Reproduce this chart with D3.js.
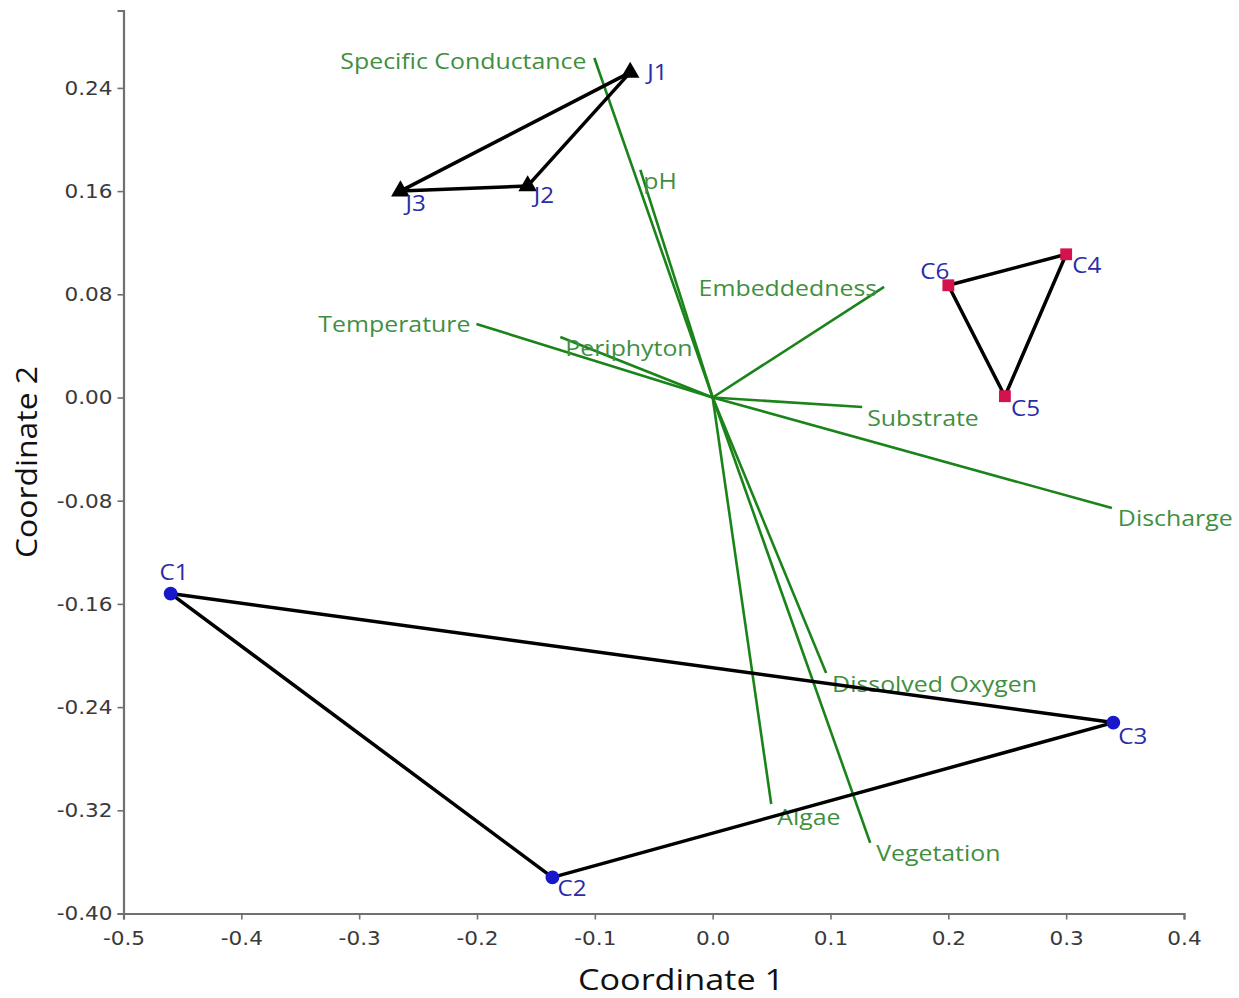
<!DOCTYPE html>
<html>
<head>
<meta charset="utf-8">
<script src="https://cdn.jsdelivr.net/npm/d3@7"></script>
<style>
  body { margin: 0; background: #fff; }
  svg { display: block; }
</style>
</head>
<body>
<script>
// Sites (scores on coordinates 1 and 2)
var siteNames = ["J1", "J2", "J3", "C4", "C5", "C6", "C1", "C2", "C3"];
var siteX = [-0.070, -0.157, -0.265, 0.300, 0.248, 0.200, -0.460, -0.136, 0.340];
var siteY = [0.252, 0.164, 0.160, 0.111, 0.001, 0.087, -0.152, -0.372, -0.252];
var siteGroup = ["J", "J", "J", "C4", "C4", "C4", "C1", "C1", "C1"];

// Environmental vectors (end points)
var varNames = ["Specific Conductance", "pH", "Embeddedness", "Temperature", "Periphyton",
                "Substrate", "Discharge", "Dissolved Oxygen", "Algae", "Vegetation"];
var varX = [-0.1004, -0.0614, 0.1455, -0.2005, -0.1293, 0.1269, 0.3388, 0.0963, 0.0497, 0.1337];
var varY = [0.2632, 0.1764, 0.0857, 0.0570, 0.0469, -0.0074, -0.0857, -0.2136, -0.3151, -0.3453];

var xTicks = [-0.5, -0.4, -0.3, -0.2, -0.1, 0.0, 0.1, 0.2, 0.3, 0.4];
var yTicks = [-0.40, -0.32, -0.24, -0.16, -0.08, 0.00, 0.08, 0.16, 0.24];

var W = 1239, H = 998;
var margin = { top: 10.5, right: 55, bottom: 84.5, left: 123.5 };

var x = d3.scaleLinear().domain([-0.5, 0.4]).range([margin.left, W - margin.right]);
var y = d3.scaleLinear().domain([-0.40, 0.30]).range([H - margin.bottom, margin.top]);

var svg = d3.select("body").append("svg")
    .attr("width", W)
    .attr("height", H);

// the source picture is a bit wider than tall, so text gets stretched sideways
function stretch(sel, k) {
  sel.each(function () {
    var len = this.getComputedTextLength();
    d3.select(this).attr("textLength", len * k).attr("lengthAdjust", "spacingAndGlyphs");
  });
}

// label placement (offsets from the line end / marker)
var varLabel = {
  "Specific Conductance": { dx: -8, dy: 11, anchor: "end" },
  "pH": { dx: 3, dy: 19, anchor: "start" },
  "Embeddedness": { dx: -7, dy: 9, anchor: "end" },
  "Temperature": { dx: -6, dy: 8, anchor: "end" },
  "Periphyton": { dx: 5, dy: 19, anchor: "start" },
  "Substrate": { dx: 5, dy: 19, anchor: "start" },
  "Discharge": { dx: 6, dy: 18, anchor: "start" },
  "Dissolved Oxygen": { dx: 6, dy: 19, anchor: "start" },
  "Algae": { dx: 6, dy: 21, anchor: "start" },
  "Vegetation": { dx: 6, dy: 18, anchor: "start" }
};
var siteLabel = {
  J1: { dx: 17, dy: 8 }, J2: { dx: 6, dy: 17 }, J3: { dx: 5, dy: 20 },
  C4: { dx: 6, dy: 19 }, C5: { dx: 6, dy: 20 }, C6: { dx: -28, dy: -6 },
  C1: { dx: -11, dy: -14 }, C2: { dx: 5, dy: 19 }, C3: { dx: 5, dy: 21 }
};

var fmtX = function (d) { return d.toFixed(1); };
var fmtY = function (d) { return d.toFixed(2); };

// Axes
var xAxis = svg.append("g")
    .attr("transform", "translate(0," + y(-0.40) + ")")
    .call(d3.axisBottom(x).tickValues(xTicks).tickFormat(fmtX).tickSizeOuter(0).tickSize(6).tickPadding(11));
var yAxis = svg.append("g")
    .attr("transform", "translate(" + x(-0.5) + ",0)")
    .call(d3.axisLeft(y).tickValues(yTicks).tickFormat(fmtY).tickSizeOuter(0).tickSize(6).tickPadding(5));

[xAxis, yAxis].forEach(function (a) {
  a.select(".domain").attr("stroke", "#707070").attr("stroke-width", 2.2);
  a.selectAll(".tick line").attr("stroke", "#707070").attr("stroke-width", 1.6);
  a.selectAll(".tick text")
    .attr("fill", "#3a3a3a")
    .attr("font-family", "DejaVu Sans, Verdana, sans-serif")
    .attr("font-size", 20)
    .call(stretch, 1.08);
});

svg.append("text")
    .attr("x", 681).attr("y", 990)
    .attr("text-anchor", "middle")
    .attr("font-family", "Open Sans, sans-serif")
    .attr("font-size", 29)
    .attr("fill", "#111")
    .text("Coordinate 1")
    .call(stretch, 1.18);
svg.append("text")
    .attr("transform", "translate(37,462) rotate(-90)")
    .attr("text-anchor", "middle")
    .attr("font-family", "Open Sans, sans-serif")
    .attr("font-size", 29)
    .attr("fill", "#111")
    .text("Coordinate 2")
    .call(stretch, 1.1);

// Vectors
var vars = varNames.map(function (n, i) { return { name: n, x: varX[i], y: varY[i] }; });
svg.append("g").selectAll("line")
  .data(vars)
  .enter().append("line")
    .attr("x1", x(0)).attr("y1", y(0))
    .attr("x2", function (d) { return x(d.x); })
    .attr("y2", function (d) { return y(d.y); })
    .attr("stroke", "#1a841a")
    .attr("stroke-width", 2.6);

svg.append("g").selectAll("text")
  .data(vars)
  .enter().append("text")
    .attr("x", function (d) { return x(d.x) + varLabel[d.name].dx; })
    .attr("y", function (d) { return y(d.y) + varLabel[d.name].dy; })
    .attr("text-anchor", function (d) { return varLabel[d.name].anchor; })
    .attr("font-family", "Open Sans, sans-serif")
    .attr("font-size", 22)
    .attr("fill", "#3f8f3f")
    .text(function (d) { return d.name; })
    .call(stretch, 1.13);

// Site polygons
var sites = siteNames.map(function (n, i) { return { name: n, x: siteX[i], y: siteY[i], group: siteGroup[i] }; });
var groups = d3.group(sites, function (d) { return d.group; });
var line = d3.line()
    .x(function (d) { return x(d.x); })
    .y(function (d) { return y(d.y); })
    .curve(d3.curveLinearClosed);

svg.append("g").selectAll("path")
  .data(Array.from(groups.values()))
  .enter().append("path")
    .attr("d", line)
    .attr("fill", "none")
    .attr("stroke", "#000")
    .attr("stroke-width", 3.5)
    .attr("stroke-linejoin", "round");

// Markers
var markerShape = { J: d3.symbolTriangle, C4: d3.symbolSquare, C1: d3.symbolCircle };
var markerSize = { J: 150, C4: 140, C1: 150 };
var markerColor = { J: "#000", C4: "#d4124e", C1: "#1818c8" };

svg.append("g").selectAll("path")
  .data(sites)
  .enter().append("path")
    .attr("transform", function (d) { return "translate(" + x(d.x) + "," + y(d.y) + ")"; })
    .attr("d", function (d) { return d3.symbol().type(markerShape[d.group]).size(markerSize[d.group])(); })
    .attr("fill", function (d) { return markerColor[d.group]; });

svg.append("g").selectAll("text")
  .data(sites)
  .enter().append("text")
    .attr("x", function (d) { return x(d.x) + siteLabel[d.name].dx; })
    .attr("y", function (d) { return y(d.y) + siteLabel[d.name].dy; })
    .attr("font-family", "Open Sans, sans-serif")
    .attr("font-size", 22)
    .attr("fill", "#2b2ba8")
    .text(function (d) { return d.name; })
    .call(stretch, 1.1);
</script>
</body>
</html>
